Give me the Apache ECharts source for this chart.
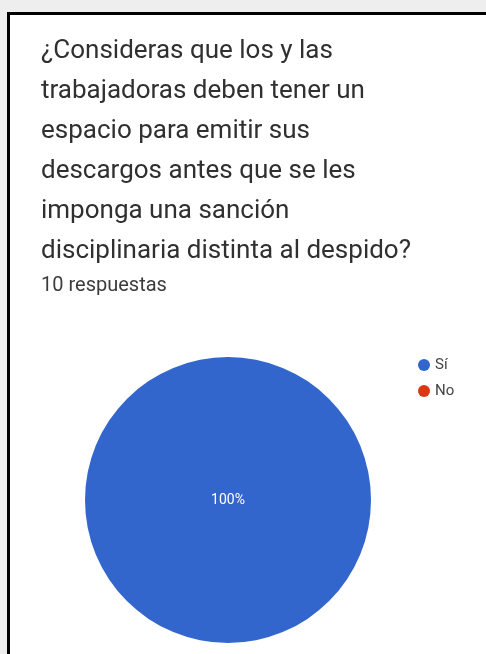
<!DOCTYPE html>
<html>
<head>
<meta charset="utf-8">
<script src="https://cdn.jsdelivr.net/npm/echarts@6/dist/echarts.min.js"></script>
<style>
html,body{margin:0;padding:0;background:#eeeeee;}
#c{position:absolute;left:0;top:0;width:486px;height:654px;}
</style>
</head>
<body>
<div id="c"></div>
<script>
var questionLines = [
  '¿Consideras que los y las',
  'trabajadoras deben tener un',
  'espacio para emitir sus',
  'descargos antes que se les',
  'imponga una sanción',
  'disciplinaria distinta al despido?'
];
var responseNote = '10 respuestas';
var categories = ['Sí', 'No'];
var counts = [10, 0];
var colors = ['#3366cc', '#dc3912'];

var chart = echarts.init(document.getElementById('c'), null, {renderer: 'canvas'});
var pieData = categories.map(function (c, i) {
  var item = {name: c, value: counts[i], itemStyle: {color: colors[i]}};
  if (counts[i] === 0) item.label = {show: false};
  return item;
});
chart.setOption({
  backgroundColor: 'transparent',
  animation: false,
  graphic: [{
    type: 'rect', z: -10,
    shape: {x: 8.5, y: 13.5, width: 520, height: 700},
    style: {fill: '#ffffff', stroke: '#000000', lineWidth: 3}
  }],
  title: [{
    text: questionLines.join('\n'),
    left: 36, top: 26,
    textStyle: {fontFamily: 'Roboto', fontSize: 26, fontWeight: 'normal', color: '#303030', lineHeight: 40}
  }, {
    text: responseNote,
    left: 36, top: 270,
    textStyle: {fontFamily: 'Roboto', fontSize: 20, fontWeight: 'normal', color: '#3c3c3c', lineHeight: 22}
  }],
  legend: {
    orient: 'vertical', left: 413, top: 352,
    icon: 'circle', itemWidth: 12, itemHeight: 12, itemGap: 10,
    textStyle: {fontFamily: 'Roboto', fontSize: 15, color: '#444444', lineHeight: 16},
    data: categories
  },
  series: [{
    type: 'pie',
    center: [228, 500],
    radius: 143,
    startAngle: 90,
    data: pieData,
    label: {show: true, position: 'center', formatter: '{d}%', color: '#ffffff', fontFamily: 'Roboto', fontSize: 14},
    labelLine: {show: false},
    emphasis: {disabled: true}
  }]
});
</script>
</body>
</html>
